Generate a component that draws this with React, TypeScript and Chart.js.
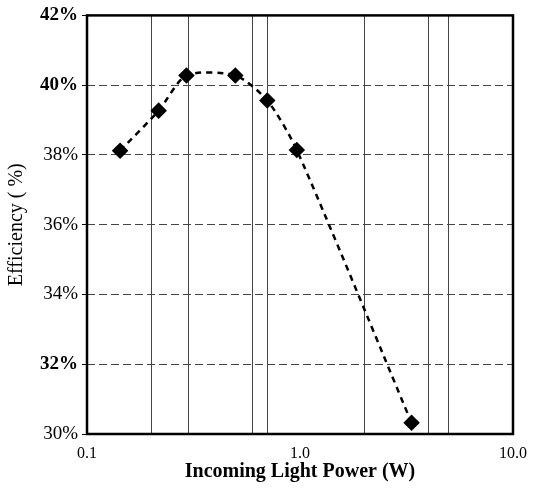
import React, { useEffect, useRef } from "react";
import { Chart, registerables } from "chart.js";

Chart.register(...registerables);

const powerW = [0.143, 0.217, 0.293, 0.497, 0.702, 0.966, 3.34];
const efficiency = [38.12, 39.27, 40.28, 40.28, 39.56, 38.14, 30.32];
const xTickValues = [0.1, 0.2, 0.3, 0.6, 0.7, 1, 2, 4, 5, 10];
const xLabeled = [0.1, 1, 10];
const yBoldTicks = [42, 40, 32];

const FONT = "'Liberation Serif', 'DejaVu Serif', serif";

const frame = {
  id: "frame",
  afterDraw(chart: any) {
    const { ctx, chartArea } = chart;
    ctx.save();
    ctx.strokeStyle = "#000";
    ctx.lineWidth = 2.5;
    ctx.strokeRect(chartArea.left, chartArea.top, chartArea.right - chartArea.left, chartArea.bottom - chartArea.top);
    ctx.restore();
  },
};

export default function App() {
  const ref = useRef<HTMLCanvasElement>(null);
  useEffect(() => {
    document.body.style.margin = "0";
    const chart = new Chart(ref.current!, {
      type: "line",
      data: {
        datasets: [
          {
            data: powerW.map((x, i) => ({ x, y: efficiency[i] })),
            borderColor: "#000",
            backgroundColor: "#000",
            borderWidth: 2.5,
            borderDash: [6, 5],
            tension: 0.25,
            pointStyle: "rectRot",
            pointRadius: 6.5,
            pointBackgroundColor: "#000",
            pointBorderColor: "#000",
          },
        ],
      },
      options: {
        animation: false,
        responsive: false,
        layout: { padding: { left: 0, top: 14, right: 17, bottom: 0 } },
        plugins: { legend: { display: false }, tooltip: { enabled: false } },
        scales: {
          x: {
            type: "logarithmic",
            min: 0.1,
            max: 10,
            afterBuildTicks: (s: any) => {
              s.ticks = xTickValues.map((v) => ({ value: v }));
            },
            afterFit: (s: any) => {
              s.height = 64;
            },
            ticks: {
              autoSkip: false,
              maxRotation: 0,
              color: "#000",
              font: { family: FONT, size: 16 },
              padding: 10,
              callback: (v: any) => {
                const n = Number(v);
                if (!xLabeled.includes(n)) return "";
                return n.toFixed(1);
              },
            },
            grid: {
              color: (c: any) => {
                const v = c.tick && c.tick.value;
                return v === 0.1 || v === 1 || v === 10 ? "rgba(0,0,0,0)" : "#444";
              },
              lineWidth: 1,
              drawTicks: false,
            },
            border: { display: false },
            title: {
              display: true,
              text: "Incoming Light Power (W)",
              color: "#000",
              font: { family: FONT, size: 20, weight: "bold" },
              padding: { top: 0, bottom: 14 },
            },
          },
          y: {
            min: 30,
            max: 42,
            afterFit: (s: any) => {
              s.width = 87;
            },
            ticks: {
              stepSize: 2,
              color: "#000",
              padding: 4,
              font: (c: any) => ({
                family: FONT,
                size: 19,
                weight: c.tick && yBoldTicks.includes(c.tick.value) ? "bold" : "normal",
              }),
              callback: (v: any) => v + "%",
            },
            grid: {
              color: (c: any) => {
                const v = c.tick && c.tick.value;
                return v === 30 || v === 42 ? "rgba(0,0,0,0)" : "#444";
              },
              lineWidth: 1,
              tickLength: 5,
              tickColor: "#000",
            },
            border: { display: false, dash: [8, 4] } as any,
            title: {
              display: true,
              text: "Efficiency ( %)",
              color: "#000",
              font: { family: FONT, size: 20 },
              padding: { top: 5, bottom: 0 },
            },
          },
        },
      },
      plugins: [frame],
    });
    return () => chart.destroy();
  }, []);
  return (
    <div style={{ width: 537, height: 498 }}>
      <canvas ref={ref} width={537} height={498} />
    </div>
  );
}
